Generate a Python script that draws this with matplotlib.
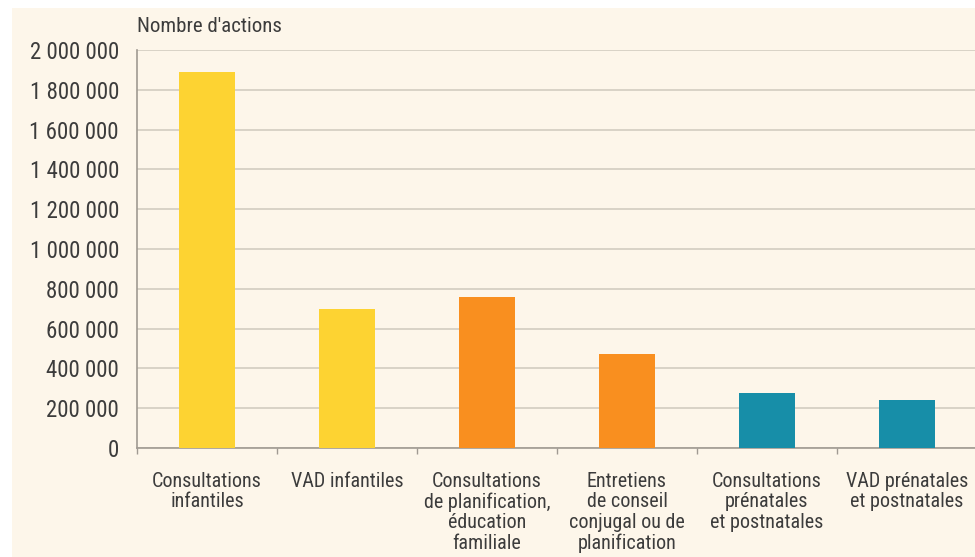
import matplotlib
matplotlib.use("Agg")
import matplotlib.pyplot as plt
from matplotlib.patches import Rectangle
from matplotlib.ticker import FuncFormatter, FixedLocator

plt.rcParams['font.family'] = ['Roboto Condensed', 'Archivo Narrow', 'PT Sans Narrow',
                               'IBM Plex Sans Condensed', 'Liberation Sans', 'DejaVu Sans']

categories = [
    "Consultations\ninfantiles",
    "VAD infantiles",
    "Consultations\nde planification,\néducation\nfamiliale",
    "Entretiens\nde conseil\nconjugal ou de\nplanification",
    "Consultations\nprénatales\net postnatales",
    "VAD prénatales\net postnatales",
]
values = [1890000, 700000, 760000, 470000, 275000, 240000]
groups = ["infant", "infant", "planning", "planning", "perinatal", "perinatal"]
group_colors = {"infant": "#FDD332", "planning": "#F98F1F", "perinatal": "#178EA8"}
yticks = [0, 200000, 400000, 600000, 800000, 1000000, 1200000,
          1400000, 1600000, 1800000, 2000000]

cream = "#FDF6EA"
text_col = "#3C3C3C"

fig = plt.figure(figsize=(9.75, 5.57), dpi=100, facecolor="white")
fig.patches.append(Rectangle((12 / 975, 0), 1, 1 - 8 / 557, transform=fig.transFigure,
                             facecolor=cream, edgecolor="none", zorder=-10))

ax = fig.add_axes([137 / 975, 1 - 448 / 557, 840 / 975, 398 / 557])
ax.set_facecolor(cream)

x = list(range(len(categories)))
ax.bar(x, values, width=0.4, color=[group_colors[g] for g in groups], zorder=3)

ax.set_xlim(-0.5, len(categories) - 0.5)
ax.set_ylim(0, 2000000)
ax.set_yticks(yticks)
ax.yaxis.set_major_formatter(FuncFormatter(lambda v, p: f"{int(v):,}".replace(",", " ")))
ax.tick_params(axis="y", length=0, pad=13, labelsize=16.5, labelcolor=text_col)
ax.grid(axis="y", color="#D9D3C7", linewidth=1.4, zorder=0)

ax.set_xticks(x)
ax.set_xticklabels(categories, fontsize=14.5, color=text_col, linespacing=1.1)
ax.tick_params(axis="x", which="major", length=0, pad=17)
ax.xaxis.set_minor_locator(FixedLocator([i - 0.5 for i in range(len(categories) + 1)]))
ax.tick_params(axis="x", which="minor", length=4, color="#A09A92", width=1)

for side in ("top", "right"):
    ax.spines[side].set_visible(False)
for side in ("left", "bottom"):
    ax.spines[side].set_color("#A09A92")
    ax.spines[side].set_linewidth(1.2)

fig.text(137 / 975, 1 - 26 / 557, "Nombre d'actions", fontsize=15, color=text_col,
         ha="left", va="center")

fig.savefig("out.png", dpi=100, facecolor=fig.get_facecolor())
